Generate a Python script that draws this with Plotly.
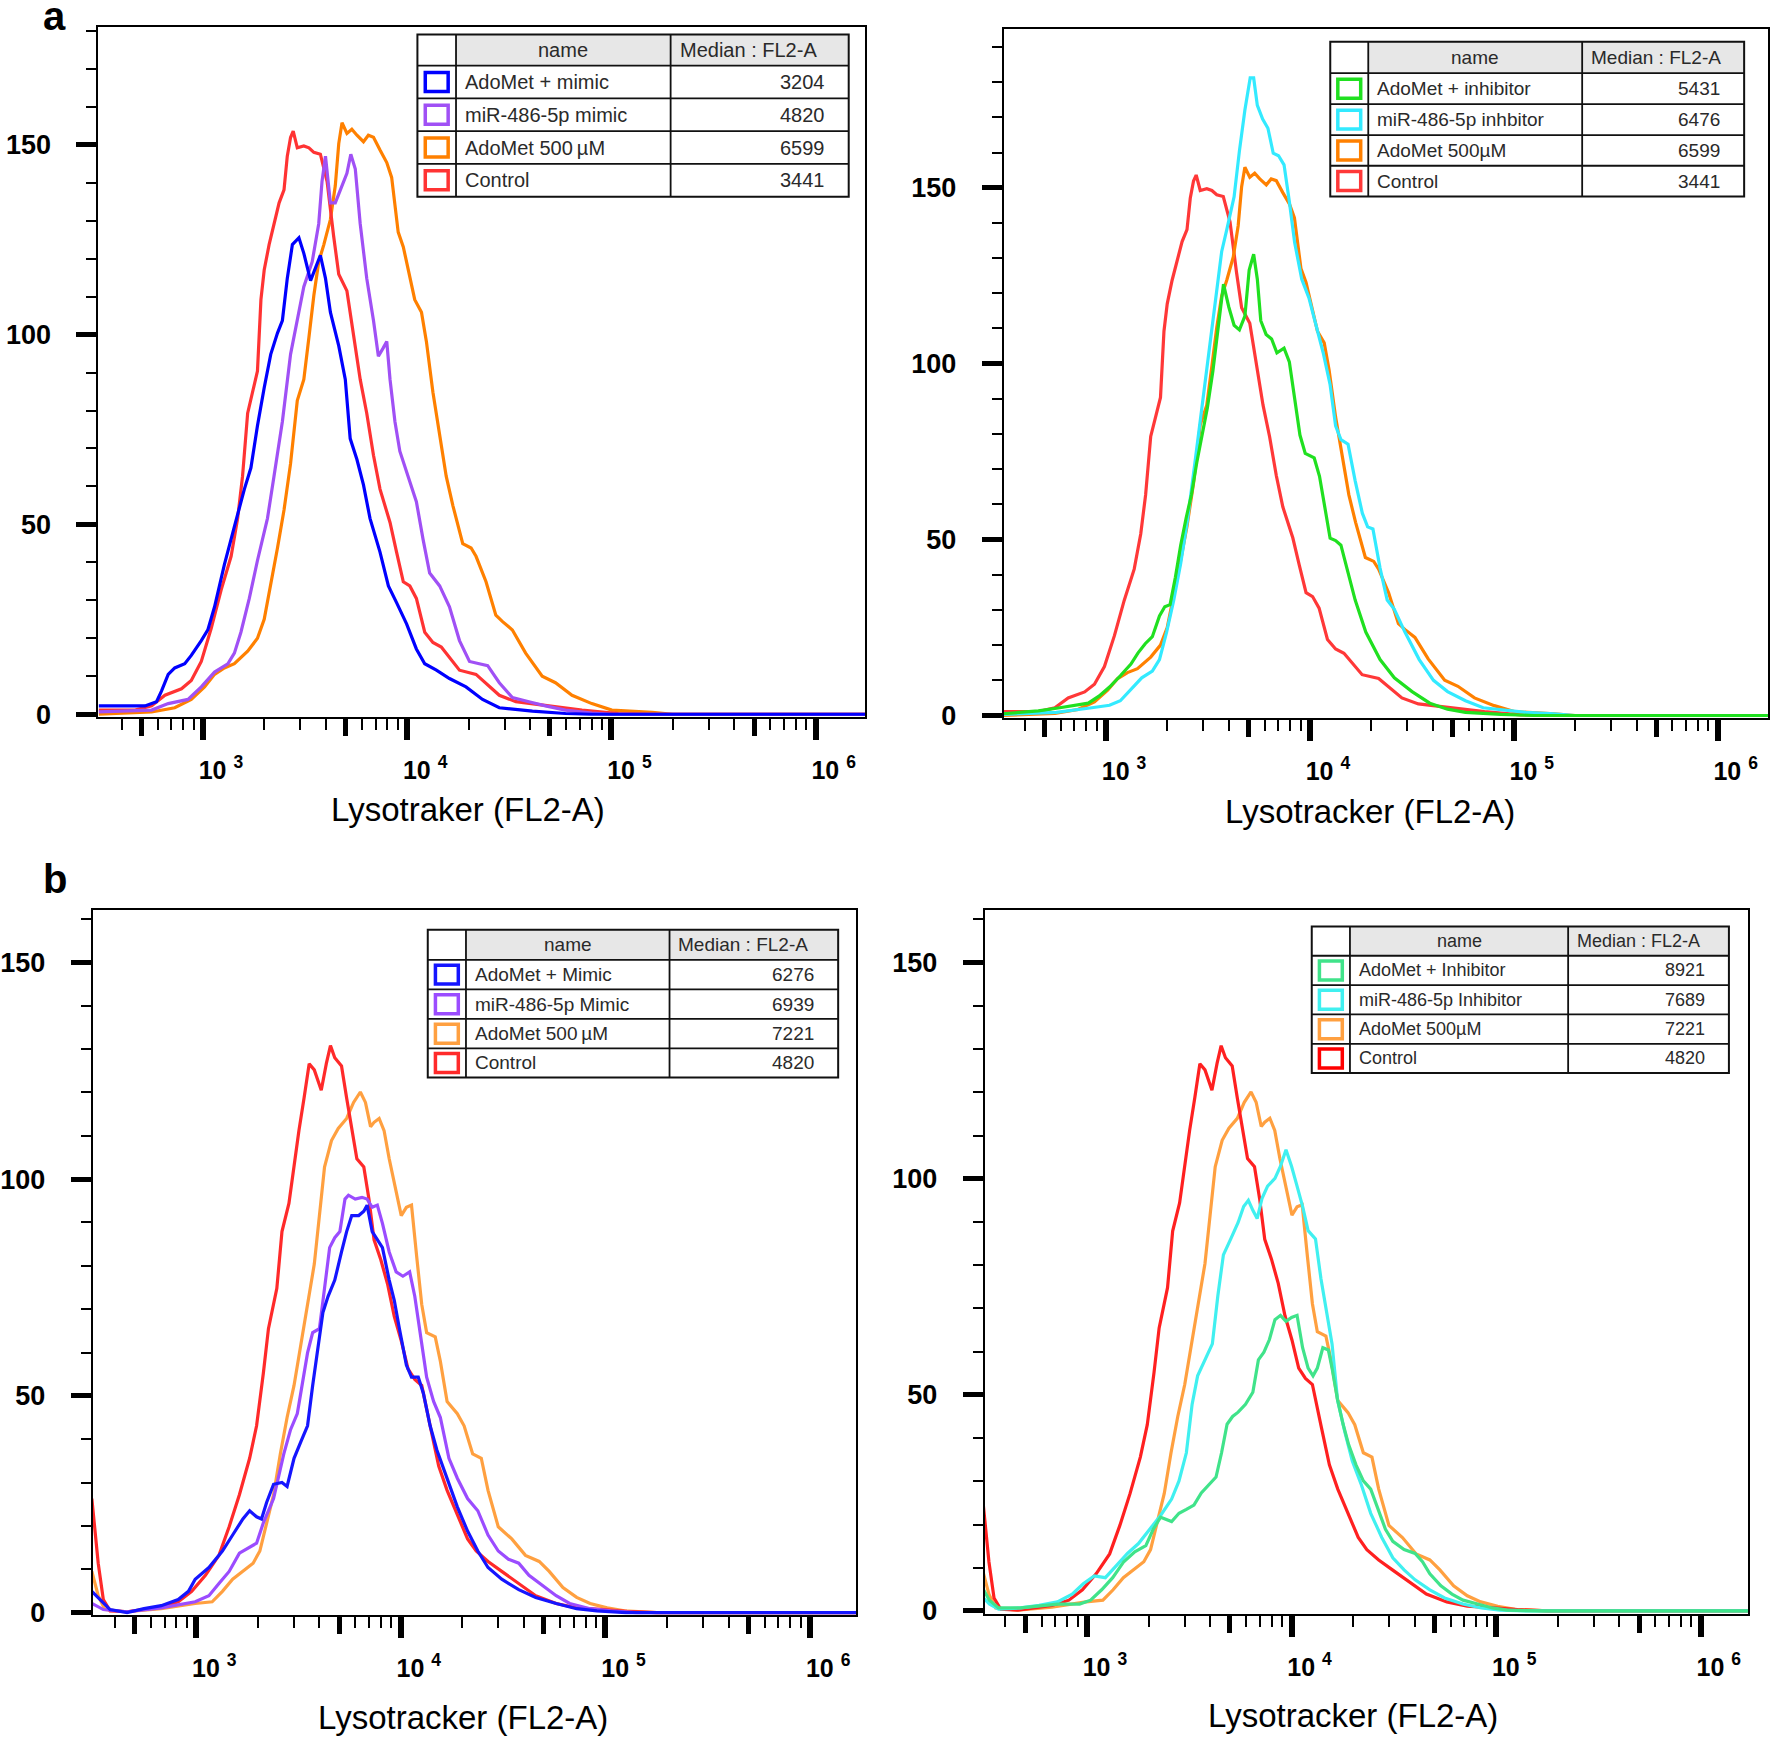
import plotly.graph_objects as go

W, H = 1772, 1741
FONT = "Liberation Sans, Arial, sans-serif"

# ---------------- data (log10 FL2-A positions, cell counts) ----------------
# Panel a : shared samples
A_CONTROL_LOG = [2.49, 2.668, 2.749, 2.814, 2.895, 2.943, 2.992, 3.041, 3.089, 3.138, 3.170, 3.194, 3.219, 3.243, 3.267, 3.284, 3.300, 3.324, 3.348, 3.373, 3.397, 3.413, 3.429, 3.442, 3.462, 3.494, 3.519, 3.543, 3.575, 3.608, 3.640, 3.665, 3.705, 3.737, 3.770, 3.802, 3.835, 3.867, 3.916, 3.948, 3.981, 4.013, 4.045, 4.086, 4.126, 4.167, 4.224, 4.256, 4.337, 4.402, 4.451, 4.532, 4.694, 4.856, 5.034, 5.2, 6.25]
A_CONTROL_CNT = [1.1, 1.1, 2.2, 5.0, 6.7, 8.9, 13.9, 22.7, 32.7, 41.6, 51.6, 62.7, 79.3, 84.8, 90.4, 109.2, 117.0, 123.7, 129.2, 134.7, 138.1, 147.0, 151.9, 153.6, 149.2, 149.7, 149.2, 148.0, 147.5, 140.3, 125.9, 115.9, 111.5, 99.3, 88.2, 79.3, 68.2, 59.3, 50.5, 42.7, 34.9, 33.8, 30.5, 21.6, 18.9, 17.7, 13.9, 11.6, 10.5, 7.2, 5.0, 3.3, 2.2, 1.1, 0.2, 0.0, 0.0]

A_ADOMET_LOG = [2.49, 2.749, 2.862, 2.943, 3.008, 3.057, 3.105, 3.154, 3.219, 3.267, 3.300, 3.332, 3.365, 3.397, 3.429, 3.462, 3.494, 3.519, 3.543, 3.567, 3.592, 3.624, 3.648, 3.665, 3.681, 3.705, 3.729, 3.754, 3.786, 3.810, 3.835, 3.867, 3.900, 3.924, 3.940, 3.956, 3.981, 4.005, 4.037, 4.070, 4.094, 4.126, 4.159, 4.191, 4.224, 4.272, 4.313, 4.337, 4.386, 4.434, 4.467, 4.515, 4.580, 4.661, 4.726, 4.807, 4.904, 5.002, 5.2, 5.3, 6.25]
A_ADOMET_CNT = [0.0, 0.6, 1.7, 3.9, 7.2, 10.5, 12.2, 13.3, 16.6, 20.0, 25.0, 33.8, 43.8, 53.8, 66.0, 82.6, 88.2, 99.3, 110.3, 119.2, 123.7, 130.3, 139.2, 150.3, 155.8, 153.0, 154.1, 152.5, 150.8, 152.5, 152.0, 148.6, 145.3, 141.4, 134.7, 127.0, 123.1, 117.0, 109.2, 105.9, 98.2, 84.8, 73.7, 62.7, 54.9, 44.9, 43.8, 41.6, 34.9, 26.1, 24.4, 22.2, 16.1, 10.0, 8.3, 5.0, 2.8, 1.1, 0.5, 0.0, 0.0]

A_MIMIC_PLUS_LOG = [2.49, 2.716, 2.773, 2.797, 2.830, 2.862, 2.911, 2.943, 2.992, 3.024, 3.057, 3.105, 3.154, 3.203, 3.235, 3.267, 3.300, 3.332, 3.365, 3.389, 3.413, 3.438, 3.470, 3.494, 3.527, 3.551, 3.575, 3.600, 3.624, 3.665, 3.697, 3.721, 3.754, 3.786, 3.818, 3.867, 3.908, 3.948, 3.997, 4.045, 4.086, 4.143, 4.207, 4.288, 4.369, 4.451, 4.613, 4.775, 4.9, 6.25]
A_MIMIC_PLUS_CNT = [2.2, 2.2, 3.3, 6.1, 10.5, 12.2, 13.3, 15.5, 19.4, 22.2, 28.3, 39.4, 49.4, 59.3, 64.9, 76.0, 86.0, 94.8, 100.4, 103.7, 114.8, 123.7, 125.5, 121.4, 114.2, 117.6, 120.9, 114.8, 105.9, 97.0, 88.2, 72.6, 67.1, 60.4, 51.6, 42.7, 33.8, 29.4, 23.8, 17.2, 13.3, 11.6, 9.4, 7.2, 3.9, 1.7, 0.8, 0.2, 0.0, 0.0]

A_MIMIC_LOG = [2.49, 2.749, 2.830, 2.927, 2.992, 3.057, 3.122, 3.154, 3.186, 3.227, 3.267, 3.316, 3.348, 3.389, 3.429, 3.462, 3.494, 3.535, 3.567, 3.583, 3.600, 3.624, 3.648, 3.673, 3.705, 3.724, 3.746, 3.770, 3.802, 3.835, 3.859, 3.883, 3.900, 3.916, 3.940, 3.964, 4.013, 4.045, 4.078, 4.110, 4.159, 4.207, 4.256, 4.305, 4.353, 4.394, 4.451, 4.515, 4.596, 4.677, 4.775, 4.904, 5.0, 6.25]
A_MIMIC_CNT = [0.6, 1.1, 2.8, 3.9, 7.2, 11.1, 13.3, 16.1, 21.6, 30.5, 40.5, 51.6, 62.7, 77.1, 94.8, 103.7, 112.6, 119.2, 129.2, 140.3, 147.0, 134.7, 134.7, 138.1, 142.5, 147.5, 143.6, 129.2, 114.8, 103.7, 94.3, 96.5, 98.2, 88.2, 77.1, 69.3, 61.6, 56.0, 46.0, 37.2, 33.8, 28.3, 19.4, 13.9, 13.3, 12.8, 8.3, 4.4, 3.3, 2.2, 1.1, 0.3, 0.0, 0.0]

A_INHIB_PLUS_LOG = [2.494, 2.668, 2.773, 2.843, 2.913, 2.965, 3.017, 3.070, 3.122, 3.157, 3.192, 3.227, 3.262, 3.288, 3.314, 3.340, 3.366, 3.393, 3.419, 3.445, 3.471, 3.497, 3.524, 3.550, 3.576, 3.602, 3.628, 3.654, 3.681, 3.702, 3.724, 3.742, 3.759, 3.785, 3.812, 3.838, 3.873, 3.899, 3.925, 3.951, 3.977, 4.021, 4.047, 4.073, 4.099, 4.126, 4.152, 4.187, 4.222, 4.274, 4.344, 4.414, 4.501, 4.588, 4.675, 4.763, 4.937, 5.1, 6.25]
A_INHIB_PLUS_CNT = [0.5, 1.3, 2.2, 2.9, 3.5, 5.5, 8.1, 11.3, 14.6, 17.8, 20.4, 22.4, 28.3, 30.9, 31.5, 39.3, 48.4, 56.2, 62.8, 71.9, 79.7, 87.5, 97.9, 110.9, 122.6, 116.1, 110.9, 109.6, 113.5, 126.6, 131.1, 124.0, 112.2, 108.3, 107.0, 103.1, 104.4, 100.5, 90.1, 79.7, 74.5, 73.2, 68.0, 58.9, 50.4, 49.7, 48.4, 40.6, 32.8, 23.7, 15.9, 10.7, 6.8, 3.5, 1.8, 0.9, 0.3, 0.0, 0.0]

A_INHIB_LOG = [2.494, 2.756, 2.930, 3.017, 3.070, 3.122, 3.175, 3.227, 3.262, 3.297, 3.332, 3.366, 3.401, 3.436, 3.471, 3.506, 3.541, 3.567, 3.593, 3.628, 3.654, 3.681, 3.707, 3.724, 3.742, 3.768, 3.794, 3.820, 3.846, 3.873, 3.899, 3.925, 3.960, 3.995, 4.030, 4.065, 4.099, 4.126, 4.152, 4.187, 4.222, 4.257, 4.283, 4.309, 4.344, 4.379, 4.414, 4.466, 4.536, 4.606, 4.675, 4.763, 4.850, 4.937, 5.059, 5.199, 5.3, 6.25]
A_INHIB_CNT = [0.3, 0.9, 2.2, 2.9, 4.2, 7.4, 10.7, 12.6, 15.9, 23.7, 32.8, 43.2, 56.2, 71.9, 87.5, 103.1, 118.7, 131.8, 138.3, 147.4, 160.4, 172.1, 181.2, 181.2, 173.4, 169.5, 166.9, 159.8, 159.1, 156.5, 146.1, 134.4, 124.0, 118.7, 110.9, 103.1, 94.0, 82.3, 78.4, 77.1, 66.7, 57.5, 53.6, 53.0, 41.9, 32.8, 30.2, 23.7, 15.9, 10.0, 6.8, 4.2, 2.2, 1.6, 0.9, 0.5, 0.0, 0.0]

# Panel b : shared samples
B_CONTROL_LOG = [2.49, 2.521, 2.546, 2.579, 2.662, 2.745, 2.829, 2.912, 2.978, 3.045, 3.111, 3.161, 3.211, 3.261, 3.295, 3.328, 3.353, 3.394, 3.419, 3.453, 3.478, 3.502, 3.527, 3.552, 3.577, 3.611, 3.636, 3.656, 3.677, 3.710, 3.735, 3.760, 3.785, 3.819, 3.844, 3.869, 3.902, 3.935, 3.968, 4.002, 4.035, 4.068, 4.102, 4.143, 4.185, 4.226, 4.276, 4.326, 4.368, 4.426, 4.493, 4.576, 4.659, 4.759, 4.859, 4.992, 5.105, 5.25, 6.25]
B_CONTROL_CNT = [26.3, 11.4, 3.0, 0.4, 0.2, 0.7, 1.3, 2.5, 4.9, 8.6, 13.2, 19.8, 27.2, 35.6, 43.1, 55.2, 65.5, 74.8, 87.9, 94.4, 103.7, 111.2, 118.7, 126.6, 125.2, 120.5, 126.7, 130.8, 128.0, 126.1, 118.7, 111.2, 104.7, 102.8, 95.4, 86.0, 81.4, 75.8, 68.3, 62.7, 56.2, 53.8, 52.4, 43.1, 33.8, 28.2, 22.6, 17.0, 14.2, 11.8, 9.5, 6.7, 3.9, 2.1, 1.1, 0.7, 0.3, 0.0, 0.0]

B_ADOMET_LOG = [2.49, 2.521, 2.554, 2.662, 2.829, 2.995, 3.078, 3.128, 3.178, 3.228, 3.278, 3.311, 3.344, 3.378, 3.411, 3.444, 3.478, 3.511, 3.544, 3.577, 3.602, 3.627, 3.661, 3.694, 3.735, 3.769, 3.802, 3.827, 3.852, 3.869, 3.894, 3.918, 3.943, 3.968, 4.002, 4.027, 4.052, 4.077, 4.102, 4.126, 4.168, 4.193, 4.226, 4.276, 4.309, 4.351, 4.393, 4.426, 4.476, 4.542, 4.609, 4.676, 4.725, 4.792, 4.859, 4.925, 5.008, 5.092, 5.25, 6.25]
B_ADOMET_CNT = [9.5, 3.9, 0.7, 0.2, 0.9, 2.1, 2.5, 4.9, 7.7, 9.5, 11.4, 14.2, 20.7, 27.2, 36.6, 45.0, 52.4, 61.8, 71.1, 80.4, 91.6, 102.8, 108.9, 111.7, 114.0, 117.7, 120.1, 117.7, 112.1, 113.1, 114.0, 111.2, 104.7, 99.1, 91.6, 93.5, 94.0, 82.3, 71.1, 64.6, 63.6, 58.0, 48.7, 45.9, 43.1, 36.6, 35.6, 28.2, 19.8, 17.0, 13.2, 11.8, 9.5, 5.8, 3.5, 2.1, 1.1, 0.4, 0.0, 0.0]

B_MIMIC_PLUS_LOG = [2.49, 2.529, 2.579, 2.662, 2.745, 2.829, 2.912, 2.962, 2.995, 3.062, 3.128, 3.178, 3.228, 3.261, 3.295, 3.319, 3.344, 3.378, 3.419, 3.444, 3.478, 3.511, 3.544, 3.569, 3.594, 3.619, 3.644, 3.677, 3.710, 3.735, 3.760, 3.794, 3.819, 3.835, 3.860, 3.885, 3.910, 3.943, 3.968, 3.993, 4.027, 4.052, 4.085, 4.110, 4.143, 4.176, 4.226, 4.276, 4.326, 4.376, 4.426, 4.493, 4.576, 4.659, 4.759, 4.859, 4.958, 5.1, 6.25]
B_MIMIC_PLUS_CNT = [4.9, 3.0, 0.7, 0.0, 0.9, 1.6, 3.0, 4.9, 7.7, 10.4, 14.2, 17.9, 21.6, 23.5, 22.1, 21.6, 25.4, 29.6, 30.0, 29.1, 35.6, 39.4, 43.1, 52.4, 60.8, 69.2, 72.9, 76.7, 83.2, 87.9, 91.6, 91.6, 92.6, 94.0, 87.9, 86.0, 84.2, 76.7, 72.0, 65.5, 57.1, 54.3, 54.3, 50.6, 43.1, 37.5, 31.0, 24.4, 18.8, 14.2, 10.4, 7.7, 5.3, 3.5, 2.1, 0.9, 0.4, 0.0, 0.0]

B_MIMIC_LOG = [2.49, 2.546, 2.662, 2.829, 2.995, 3.062, 3.111, 3.161, 3.211, 3.245, 3.295, 3.328, 3.378, 3.428, 3.461, 3.494, 3.519, 3.544, 3.569, 3.602, 3.627, 3.652, 3.677, 3.702, 3.727, 3.744, 3.777, 3.810, 3.835, 3.860, 3.885, 3.910, 3.943, 3.977, 4.010, 4.043, 4.068, 4.093, 4.126, 4.160, 4.193, 4.235, 4.276, 4.326, 4.376, 4.426, 4.476, 4.526, 4.576, 4.626, 4.692, 4.759, 4.825, 4.925, 5.025, 5.15, 6.25]
B_MIMIC_CNT = [2.1, 0.7, 0.2, 1.1, 2.5, 3.9, 6.7, 9.5, 13.7, 14.6, 16.0, 20.7, 26.3, 36.6, 42.2, 45.9, 52.4, 59.9, 64.6, 65.5, 74.8, 84.2, 86.5, 87.9, 95.4, 96.3, 95.4, 95.8, 95.4, 93.5, 94.0, 89.8, 83.2, 78.6, 77.6, 78.6, 73.0, 64.6, 54.3, 48.7, 45.0, 35.6, 31.0, 26.3, 23.5, 17.9, 14.2, 12.3, 11.4, 8.6, 6.3, 3.9, 2.1, 0.9, 0.4, 0.0, 0.0]

B_INHIB_LOG = [2.495, 2.523, 2.568, 2.676, 2.766, 2.856, 2.928, 2.982, 3.036, 3.090, 3.144, 3.198, 3.252, 3.306, 3.360, 3.414, 3.450, 3.486, 3.514, 3.541, 3.577, 3.613, 3.640, 3.667, 3.703, 3.739, 3.766, 3.789, 3.811, 3.832, 3.856, 3.883, 3.919, 3.946, 3.973, 4.000, 4.027, 4.054, 4.081, 4.117, 4.144, 4.171, 4.198, 4.225, 4.261, 4.297, 4.342, 4.387, 4.441, 4.495, 4.550, 4.604, 4.676, 4.748, 4.838, 4.928, 5.018, 5.15, 6.25]
B_INHIB_CNT = [3.0, 1.6, 0.4, 0.7, 1.3, 2.1, 3.9, 6.3, 8.1, 7.7, 10.5, 13.3, 15.6, 18.9, 22.1, 25.9, 30.1, 36.6, 47.8, 54.4, 58.1, 61.8, 73.0, 82.4, 86.1, 89.9, 93.6, 95.0, 92.7, 90.8, 95.5, 98.3, 100.1, 102.9, 106.7, 102.9, 98.3, 93.6, 88.0, 86.1, 76.8, 69.3, 61.8, 48.8, 41.3, 34.7, 29.1, 22.6, 17.0, 12.3, 9.5, 7.2, 4.9, 3.0, 1.6, 0.7, 0.2, 0.0, 0.0]

B_INHIB_PLUS_LOG = [2.495, 2.523, 2.568, 2.676, 2.856, 2.964, 3.018, 3.072, 3.126, 3.180, 3.234, 3.288, 3.324, 3.360, 3.414, 3.450, 3.486, 3.523, 3.559, 3.595, 3.631, 3.658, 3.685, 3.712, 3.739, 3.775, 3.811, 3.838, 3.865, 3.892, 3.919, 3.946, 3.973, 4.000, 4.027, 4.054, 4.081, 4.105, 4.126, 4.153, 4.180, 4.198, 4.225, 4.252, 4.279, 4.315, 4.351, 4.387, 4.423, 4.459, 4.495, 4.550, 4.604, 4.640, 4.676, 4.730, 4.784, 4.838, 4.910, 4.982, 5.054, 5.2, 6.25]
B_INHIB_PLUS_CNT = [4.9, 2.5, 0.7, 0.7, 1.6, 1.6, 2.5, 4.9, 7.7, 11.4, 13.7, 15.1, 18.9, 21.7, 20.7, 22.6, 23.5, 24.5, 27.3, 29.1, 31.0, 36.6, 43.2, 45.0, 46.0, 47.8, 50.6, 58.1, 59.9, 62.8, 67.4, 68.4, 67.0, 67.9, 68.4, 60.9, 56.2, 54.4, 56.2, 60.9, 60.4, 56.2, 48.8, 43.2, 38.5, 33.8, 30.1, 28.2, 23.5, 18.9, 16.1, 14.2, 13.3, 11.4, 8.6, 5.8, 3.9, 2.5, 1.6, 0.7, 0.2, 0.0, 0.0]

# Legend tables (text content)
A_LEFT_NAMES = ["AdoMet + mimic", "miR-486-5p mimic", "AdoMet 500\u2009\u00b5M", "Control"]
A_LEFT_MEDIANS = [3204, 4820, 6599, 3441]
A_RIGHT_NAMES = ["AdoMet + inhibitor", "miR-486-5p inhbitor", "AdoMet 500\u00b5M", "Control"]
A_RIGHT_MEDIANS = [5431, 6476, 6599, 3441]
B_LEFT_NAMES = ["AdoMet + Mimic", "miR-486-5p Mimic", "AdoMet 500\u2009\u00b5M", "Control"]
B_LEFT_MEDIANS = [6276, 6939, 7221, 4820]
B_RIGHT_NAMES = ["AdoMet + Inhibitor", "miR-486-5p Inhibitor", "AdoMet 500\u00b5M", "Control"]
B_RIGHT_MEDIANS = [8921, 7689, 7221, 4820]
TABLE_HEADER = ["name", "Median : FL2-A"]

X_TITLES = ["Lysotraker (FL2-A)", "Lysotracker (FL2-A)", "Lysotracker (FL2-A)", "Lysotracker (FL2-A)"]
Y_TICKS = [0, 50, 100, 150]
X_DECADES = [3, 4, 5, 6]

# ---------------- helpers ----------------
YS = 1.006  # vertical placement correction


def px(x):
    return x / W


def py(y):
    return 1 - (y * YS) / H


def pyr(y):
    # raw (uncorrected) vertical position
    return 1 - y / H


panels = [
    dict(dom=(89.8, 860.5, 27.1, 717.6), xr=(2.488, 6.242), yr=(-0.6, 181.0),
         title_xy=(461.6, 816.0), dx=-4.0,
         series=[(A_ADOMET_LOG, A_ADOMET_CNT, "#ff8000"),
                 (A_CONTROL_LOG, A_CONTROL_CNT, "#ff3333"),
                 (A_MIMIC_LOG, A_MIMIC_CNT, "#a050f5"),
                 (A_MIMIC_PLUS_LOG, A_MIMIC_PLUS_CNT, "#0000ff")],
         table=dict(x=[414.5, 453.3, 669.0, 848.0], y=[34.5, 65.7, 98.5, 131.3, 164.2, 197.0],
                    names=A_LEFT_NAMES, meds=A_LEFT_MEDIANS,
                    colors=["#0000ff", "#a050f5", "#ff8000", "#ff3333"], fs=20)),
    dict(dom=(999.8, 1768.2, 29.4, 718.7), xr=(2.498, 6.248), yr=(-0.6, 195.0),
         title_xy=(1368.2, 818.0), dx=-1.5,
         series=[(A_CONTROL_LOG, A_CONTROL_CNT, "#ff3838"),
                 (A_ADOMET_LOG, A_ADOMET_CNT, "#ff8000"),
                 (A_INHIB_LOG, A_INHIB_CNT, "#33eaff"),
                 (A_INHIB_PLUS_LOG, A_INHIB_PLUS_CNT, "#20e020")],
         table=dict(x=[1329.5, 1367.7, 1582.7, 1745.5], y=[41.7, 73.3, 104.3, 135.3, 166.0, 196.7],
                    names=A_RIGHT_NAMES, meds=A_RIGHT_MEDIANS,
                    colors=["#20e020", "#33eaff", "#ff8000", "#ff3838"], fs=19)),
    dict(dom=(84.1, 851.5, 910.9, 1617.2), xr=(2.494, 6.225), yr=(-0.5, 162.2),
         title_xy=(456.0, 1730.0), dx=-4.0,
         series=[(B_ADOMET_LOG, B_ADOMET_CNT, "#ffa040"),
                 (B_CONTROL_LOG, B_CONTROL_CNT, "#ff2a2a"),
                 (B_MIMIC_LOG, B_MIMIC_CNT, "#9b4cff"),
                 (B_MIMIC_PLUS_LOG, B_MIMIC_PLUS_CNT, "#1515ff")],
         table=dict(x=[424.9, 463.3, 667.9, 837.4], y=[931.2, 961.3, 990.9, 1020.5, 1050.0, 1079.2],
                    names=B_LEFT_NAMES, meds=B_LEFT_MEDIANS,
                    colors=["#1515ff", "#9b4cff", "#ffa040", "#ff2a2a"], fs=19)),
    dict(dom=(980.6, 1747.9, 910.9, 1616.0), xr=(2.5, 6.231), yr=(-0.6, 162.3),
         title_xy=(1351.2, 1728.0), dx=-1.5,
         series=[(B_ADOMET_LOG, B_ADOMET_CNT, "#ffa040"),
                 (B_CONTROL_LOG, B_CONTROL_CNT, "#ff2020"),
                 (B_INHIB_LOG, B_INHIB_CNT, "#40f0f0"),
                 (B_INHIB_PLUS_LOG, B_INHIB_PLUS_CNT, "#40e38a")],
         table=dict(x=[1310.9, 1349.3, 1568.6, 1730.2], y=[927.8, 957.2, 986.6, 1016.0, 1045.4, 1074.7],
                    names=B_RIGHT_NAMES, meds=B_RIGHT_MEDIANS,
                    colors=["#40e38a", "#40f0f0", "#ffa040", "#ff0000"], fs=18)),
]

fig = go.Figure()
layout = dict(width=W, height=H, margin=dict(l=0, r=0, t=0, b=0),
              paper_bgcolor="white", plot_bgcolor="white", showlegend=False,
              font=dict(family=FONT, color="black"))
shapes, annots = [], []

decade_x = [10 ** d for d in X_DECADES]
decade_txt = ["10 <sup>%d</sup>" % d for d in X_DECADES]
half_x = [5 * 10 ** e for e in (2, 3, 4, 5)]
minor_x = [m * 10 ** e for e in (2, 3, 4, 5) for m in (2, 3, 4, 6, 7, 8, 9)]

for i, p in enumerate(panels):
    k = "" if i == 0 else str(i + 1)
    ko = str(i + 5)
    xa, ya = "x" + k, "y" + k
    L, R, T, B = p["dom"]
    for logs, cnts, col in p["series"]:
        assert len(logs) == len(cnts)
        fig.add_trace(go.Scatter(x=[10 ** v for v in logs], y=cnts, mode="lines",
                                 line=dict(color=col, width=3.2), xaxis=xa, yaxis=ya,
                                 hoverinfo="skip"))
    layout["xaxis" + k] = dict(
        domain=[px(L), px(R)], anchor=ya, type="log", range=list(p["xr"]),
        tickmode="array", tickvals=decade_x, ticktext=decade_txt,
        ticks="outside", ticklen=21, tickwidth=6, tickcolor="black",
        showline=True, mirror=True, linecolor="black", linewidth=2,
        showgrid=False, zeroline=False,
        tickfont=dict(family=FONT, size=25, color="black", weight="bold"),
        ticklabelshift=18, ticklabelstandoff=9,
        minor=dict(tickmode="array", tickvals=minor_x, ticks="outside", ticklen=11,
                   tickwidth=2, tickcolor="black", showgrid=False))
    # overlay axis carrying the thick ticks at 5 x 10^k
    layout["xaxis" + ko] = dict(
        overlaying=xa, anchor=ya, type="log", range=list(p["xr"]),
        tickmode="array", tickvals=half_x, showticklabels=False,
        ticks="outside", ticklen=18, tickwidth=4.5, tickcolor="black",
        showline=False, showgrid=False, zeroline=False)
    fig.add_trace(go.Scatter(x=[], y=[], mode="lines", xaxis="x" + ko, yaxis=ya,
                             hoverinfo="skip"))
    layout["yaxis" + k] = dict(
        domain=[py(B), py(T)], anchor=xa, range=list(p["yr"]),
        tickmode="array", tickvals=Y_TICKS, ticktext=[str(v) for v in Y_TICKS],
        ticks="outside", ticklen=20, tickwidth=5, tickcolor="black",
        showline=True, mirror=True, linecolor="black", linewidth=2,
        showgrid=False, zeroline=False,
        tickfont=dict(family=FONT, size=27, color="black", weight="bold"),
        ticklabelstandoff=20,
        minor=dict(dtick=10, tick0=0, ticks="outside", ticklen=10, tickwidth=2,
                   tickcolor="black", showgrid=False))

    # axis title
    tx, ty = p["title_xy"]
    annots.append(dict(x=px(tx), y=pyr(ty), xref="paper", yref="paper", text=X_TITLES[i],
                       showarrow=False, xanchor="center", yanchor="middle",
                       font=dict(family=FONT, size=33, color="black")))

    # legend table
    t = p["table"]
    xs = [v + p["dx"] for v in t["x"]]
    ys = t["y"]
    shapes.append(dict(type="rect", xref="paper", yref="paper", x0=px(xs[0]), x1=px(xs[3]),
                       y0=py(ys[5]), y1=py(ys[0]), fillcolor="white", line=dict(width=0)))
    shapes.append(dict(type="rect", xref="paper", yref="paper", x0=px(xs[1]), x1=px(xs[3]),
                       y0=py(ys[1]), y1=py(ys[0]), fillcolor="#e7e7e7", line=dict(width=0)))
    for xv in xs[1:3]:
        shapes.append(dict(type="line", xref="paper", yref="paper", x0=px(xv), x1=px(xv),
                           y0=py(ys[5]), y1=py(ys[0]), line=dict(color="#111", width=1.8)))
    for yv in ys[1:5]:
        shapes.append(dict(type="line", xref="paper", yref="paper", x0=px(xs[0]), x1=px(xs[3]),
                           y0=py(yv), y1=py(yv), line=dict(color="#111", width=1.8)))
    shapes.append(dict(type="rect", xref="paper", yref="paper", x0=px(xs[0]), x1=px(xs[3]),
                       y0=py(ys[5]), y1=py(ys[0]), line=dict(color="#111", width=2)))
    fs = t["fs"]
    hy = (ys[0] + ys[1]) / 2
    annots.append(dict(x=px((xs[1] + xs[2]) / 2), y=py(hy), xref="paper", yref="paper",
                       text=TABLE_HEADER[0], showarrow=False, xanchor="center", yanchor="middle",
                       font=dict(family=FONT, size=fs, color="#2a2a2a")))
    annots.append(dict(x=px(xs[2] + 7), y=py(hy), xref="paper", yref="paper",
                       text=TABLE_HEADER[1], showarrow=False, xanchor="left", yanchor="middle",
                       font=dict(family=FONT, size=fs, color="#2a2a2a")))
    cx = (xs[0] + xs[1]) / 2
    for r in range(4):
        cy = (ys[r + 1] + ys[r + 2]) / 2
        shapes.append(dict(type="rect", xref="paper", yref="paper",
                           x0=px(cx - 11.5), x1=px(cx + 11.5), y0=py(cy + 9.5), y1=py(cy - 9.5),
                           fillcolor="white", line=dict(color=t["colors"][r], width=3.5)))
        annots.append(dict(x=px(xs[1] + 7), y=py(cy), xref="paper", yref="paper",
                           text=t["names"][r], showarrow=False, xanchor="left", yanchor="middle",
                           font=dict(family=FONT, size=fs, color="#2a2a2a")))
        annots.append(dict(x=px(xs[3] - 22), y=py(cy), xref="paper", yref="paper",
                           text=str(t["meds"][r]), showarrow=False, xanchor="right", yanchor="middle",
                           font=dict(family=FONT, size=fs, color="#2a2a2a")))

# panel letters
for letter, (lx, ly) in zip(["a", "b"], [(46.0, 16.0), (46.0, 880.0)]):
    annots.append(dict(x=px(lx), y=py(ly), xref="paper", yref="paper", text="<b>%s</b>" % letter,
                       showarrow=False, xanchor="center", yanchor="middle",
                       font=dict(family=FONT, size=40, color="black")))

layout["shapes"] = shapes
layout["annotations"] = annots
fig.update_layout(**layout)
fig.write_html("out.html", config={"displayModeBar": False},
               post_script="document.body.style.margin='0px';document.body.style.overflow='hidden';")
